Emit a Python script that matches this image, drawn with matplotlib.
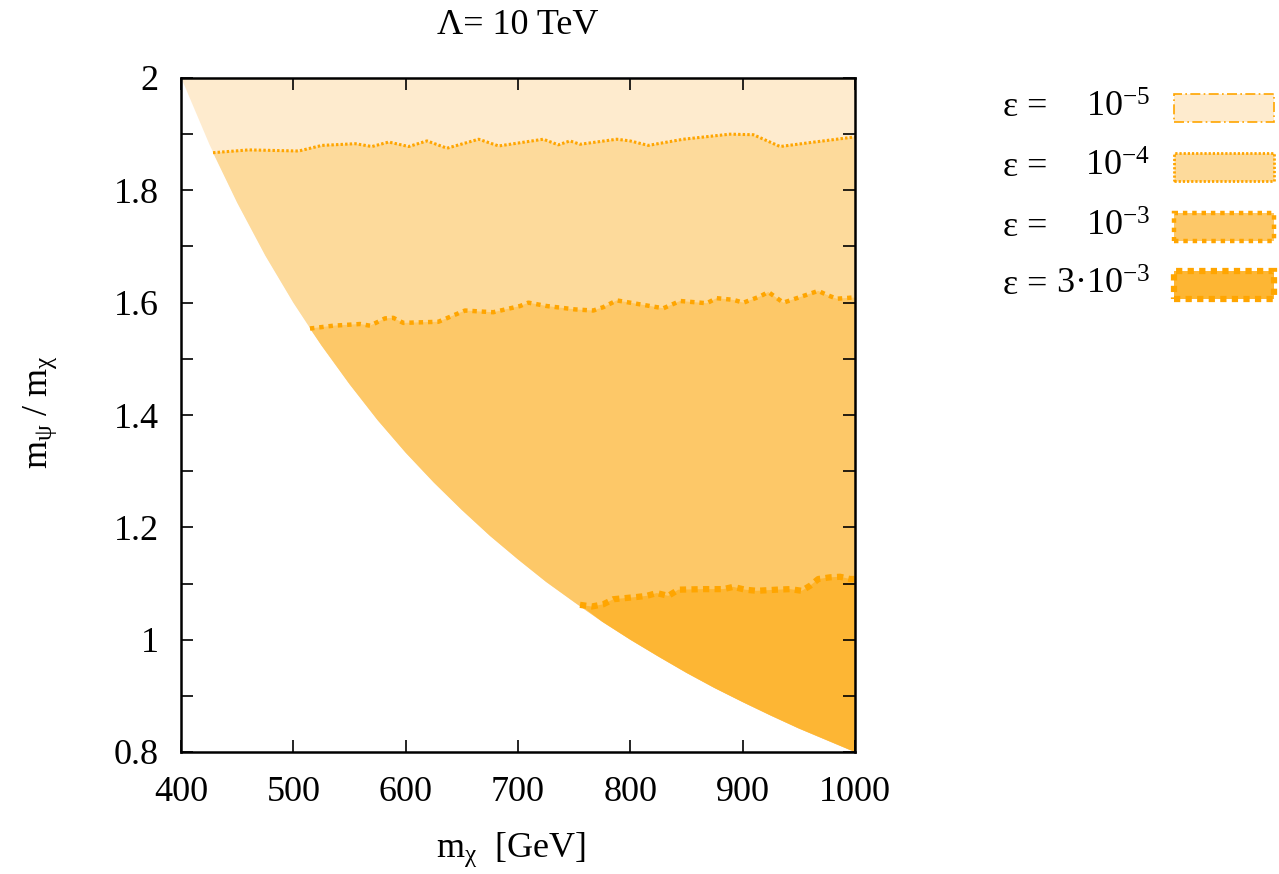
import numpy as np
import matplotlib
matplotlib.use('Agg')
import matplotlib.pyplot as plt
from matplotlib.patches import Rectangle, Polygon

plt.rcParams['font.family'] = ['Liberation Serif', 'DejaVu Serif']
plt.rcParams['mathtext.fontset'] = 'custom'
plt.rcParams['mathtext.rm'] = 'Liberation Serif'
plt.rcParams['mathtext.it'] = 'Liberation Serif:italic'

# 允许区域下边界 (m_psi / m_chi)
bound_x = [400, 425, 450, 475, 500, 525, 550, 575, 600, 625, 650, 675, 700,
           725, 750, 775, 800, 825, 850, 875, 900, 925, 950, 975, 1000]
bound_y = [2.000, 1.882, 1.778, 1.684, 1.600, 1.524, 1.455, 1.391, 1.333, 1.280,
           1.231, 1.185, 1.143, 1.103, 1.067, 1.032, 1.000, 0.970, 0.941, 0.914,
           0.889, 0.865, 0.842, 0.821, 0.800]

# eps = 1e-4 等值线
c1_x = [428.5, 460.3, 504.8, 525.5, 555.2, 570.0, 584.9, 602.7, 619.0, 636.8, 665.0,
        682.8, 692.9, 722.5, 735.9, 746.3, 755.2, 787.9, 799.7, 816.0, 847.2, 888.7,
        909.5, 933.3, 960.0, 995.6, 1000]
c1_y = [1.867, 1.872, 1.870, 1.880, 1.883, 1.878, 1.886, 1.878, 1.888, 1.875, 1.891,
        1.879, 1.882, 1.891, 1.881, 1.888, 1.882, 1.891, 1.888, 1.880, 1.891, 1.900,
        1.899, 1.878, 1.885, 1.894, 1.895]

# eps = 1e-3 等值线
c2_x = [514.8, 535.6, 559.4, 568.3, 581.6, 589.0, 597.9, 629.1, 652.8, 669.1, 678.0,
        701.8, 709.2, 725.6, 750.8, 767.0, 775.9, 787.9, 805.7, 829.4, 844.2, 868.0,
        876.9, 891.7, 900.6, 915.4, 922.8, 936.2, 951.1, 967.3, 974.8, 983.7, 997.1, 1000]
c2_y = [1.554, 1.559, 1.562, 1.559, 1.572, 1.573, 1.564, 1.566, 1.586, 1.584, 1.583,
        1.594, 1.600, 1.594, 1.588, 1.586, 1.592, 1.604, 1.598, 1.590, 1.603, 1.599,
        1.608, 1.605, 1.600, 1.611, 1.619, 1.600, 1.610, 1.621, 1.614, 1.607, 1.609, 1.609]

# eps = 3e-3 等值线
c3_x = [755.2, 765.6, 775.9, 784.9, 805.7, 814.6, 823.5, 833.8, 842.7, 865.0, 882.8,
        891.7, 902.1, 912.5, 930.3, 942.2, 952.6, 960.0, 967.3, 977.8, 986.7, 995.6, 1000]
c3_y = [1.062, 1.059, 1.063, 1.072, 1.076, 1.078, 1.083, 1.078, 1.089, 1.090, 1.090,
        1.094, 1.089, 1.087, 1.089, 1.090, 1.087, 1.096, 1.108, 1.111, 1.112, 1.108, 1.108]

fills = ['#FEEBCE', '#FDDA9B', '#FDC868', '#FDB634']
line_col = '#FFA500'

W, H = 1279, 874
fig = plt.figure(figsize=(W / 100, H / 100), dpi=100)
ax = fig.add_axes([181 / W, 1 - 752 / H, 674 / W, 674 / H])

bx = np.array(bound_x)
by = np.array(bound_y)
ax.fill_between(bx, by, 2.0, color=fills[0], lw=0)


def region(cx, cy, col):
    # 等值线以下、边界以上的区域
    sel = bx > cx[0]
    px = list(cx) + list(bx[sel][::-1])
    py = list(cy) + list(by[sel][::-1])
    ax.add_patch(Polygon(np.column_stack([px, py]), closed=True, fc=col, ec='none', lw=0))


region(c1_x, c1_y, fills[1])
region(c2_x, c2_y, fills[2])
region(c3_x, c3_y, fills[3])

ax.plot(c1_x, c1_y, color=line_col, lw=2.2, ls=(0, (0.8, 0.7)))
ax.plot(c2_x, c2_y, color=line_col, lw=3.2, ls=(0, (1, 1.1)))
ax.plot(c3_x, c3_y, color=line_col, lw=4.5, ls=(0, (1, 0.85)))

ax.set_xlim(400, 1000)
ax.set_ylim(0.8, 2.0)
ax.set_xticks([400, 500, 600, 700, 800, 900, 1000])
ax.set_yticks([0.8, 1.0, 1.2, 1.4, 1.6, 1.8, 2.0])
ax.set_yticklabels(['0.8', '1', '1.2', '1.4', '1.6', '1.8', '2'])
ax.set_yticks(np.arange(0.9, 2.0, 0.2), minor=True)
ax.tick_params(which='both', direction='in', top=True, right=True,
               length=8.5, width=1.2, labelsize=26)
ax.tick_params(axis='x', pad=17)
ax.tick_params(axis='y', pad=16)
for s in ax.spines.values():
    s.set_linewidth(1.8)

fig.text(518 / W, 1 - 26 / H, 'Λ= 10 TeV', ha='center', va='center', fontsize=26)
fig.text(511 / W, 1 - 850 / H, r'$\mathregular{m_{χ}}$  [GeV]', ha='center', va='center', fontsize=26)
fig.text(40 / W, 1 - 412 / H, r'$\mathregular{m_{ψ}\ /\ m_{χ}}$', ha='center', va='center',
         fontsize=26, rotation=90)

# 图例（手动画）
leg_vals = [r'10$^{\mathregular{-5}}$', r'10$^{\mathregular{-4}}$',
            r'10$^{\mathregular{-3}}$', r'3·10$^{\mathregular{-3}}$']
leg_ls = [(0, (6, 2, 1, 2)), (0, (0.8, 0.7)), (0, (1, 1.1)), (0, (1, 0.85))]
leg_lw = [1.2, 2.0, 3.2, 4.5]
leg_y = [108, 167, 227, 285]
for i in range(4):
    yc = 1 - leg_y[i] / H
    fig.text(1003 / W, yc, 'ε =', ha='left', va='center', fontsize=26)
    fig.text(1150 / W, yc, leg_vals[i], ha='right', va='center', fontsize=26)
    r = Rectangle((1174 / W, yc - 14 / H), 100 / W, 28 / H, transform=fig.transFigure,
                  fc=fills[i], ec=line_col, lw=leg_lw[i], ls=leg_ls[i])
    fig.add_artist(r)

fig.savefig('out.png', dpi=100)
